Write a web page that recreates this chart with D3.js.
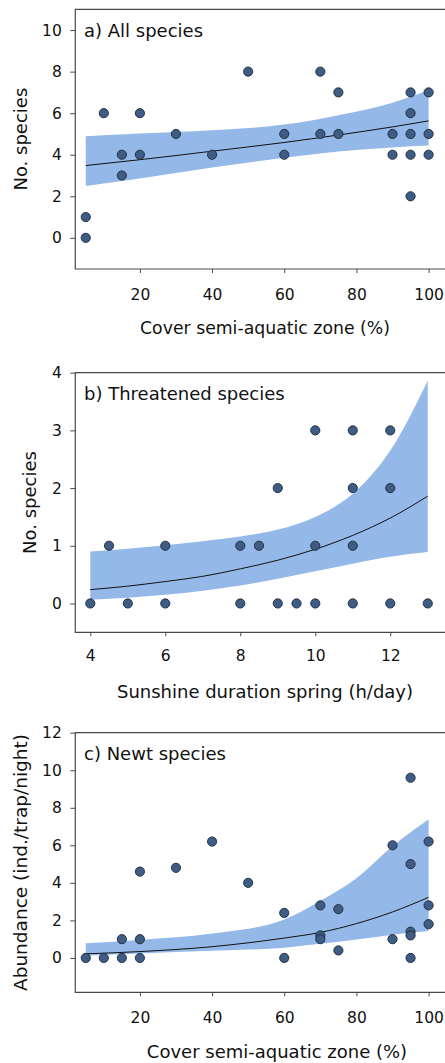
<!DOCTYPE html>
<html>
<head>
<meta charset="utf-8">
<script src="https://cdn.jsdelivr.net/npm/d3@7"></script>
<style>
  html, body { margin: 0; padding: 0; background: #fff; }
  svg { display: block; }
</style>
</head>
<body>
<div id="chart"></div>
<script>
/* ------------------------- Data ------------------------- */
/* a) All species vs cover of semi-aquatic zone */
var coverA   = [5, 5, 10, 15, 15, 20, 20, 30, 40, 50, 60, 60, 70, 70, 75, 75, 90, 90, 95, 95, 95, 95, 95, 100, 100, 100];
var speciesA = [1, 0, 6, 4, 3, 6, 4, 5, 4, 8, 5, 4, 8, 5, 7, 5, 5, 4, 7, 6, 5, 4, 2, 7, 5, 4];
var fitXA     = [5, 20, 40, 60, 75, 90, 100];
var fitA      = [3.48, 3.76, 4.17, 4.59, 4.95, 5.34, 5.63];
var upperA    = [4.89, 5.02, 5.18, 5.45, 5.9, 6.5, 7.1];
var lowerA    = [2.49, 2.85, 3.38, 3.85, 4.15, 4.35, 4.44];

/* b) Threatened species vs sunshine duration */
var sunB     = [4, 4.5, 5, 6, 6, 8, 8, 8.5, 9, 9, 9.5, 10, 10, 10, 11, 11, 11, 11, 12, 12, 12, 13];
var threatB  = [0, 1, 0, 1, 0, 1, 0, 1, 2, 0, 0, 3, 1, 0, 3, 2, 1, 0, 3, 2, 0, 0];
var fitXB     = [4, 5, 6, 7, 8, 9, 10, 11, 12, 13];
var fitB      = [0.24, 0.30, 0.38, 0.47, 0.60, 0.75, 0.94, 1.18, 1.48, 1.86];
var upperB    = [0.90, 0.95, 1.01, 1.08, 1.16, 1.28, 1.50, 1.90, 2.65, 3.86];
var lowerB    = [0.064, 0.10, 0.15, 0.22, 0.31, 0.43, 0.56, 0.69, 0.81, 0.89];

/* c) Newt abundance vs cover of semi-aquatic zone */
var coverC   = [5, 10, 15, 15, 20, 20, 20, 30, 40, 50, 60, 60, 70, 70, 70, 75, 75, 90, 90, 95, 95, 95, 95, 95, 100, 100, 100];
var newtC    = [0, 0, 1, 0, 4.6, 1, 0, 4.8, 6.2, 4.0, 2.4, 0, 2.8, 1.2, 1.0, 2.6, 0.4, 6.0, 1.0, 9.6, 5.0, 1.4, 1.2, 0, 6.2, 2.8, 1.8];
var fitXC     = [5, 20, 40, 60, 70, 80, 90, 100];
var fitC      = [0.22, 0.34, 0.60, 1.06, 1.36, 1.83, 2.45, 3.23];
var upperC    = [0.78, 0.96, 1.30, 2.05, 3.05, 4.25, 5.95, 7.39];
var lowerC    = [0.12, 0.24, 0.38, 0.55, 0.75, 0.98, 1.24, 1.44];

var ticksCover = [20, 40, 60, 80, 100];
var ticksSun   = [4, 6, 8, 10, 12];
/* ----------------------- End Data ----------------------- */

/* ------------------------- General ------------------------- */
var width = 445,
    height = 1063,
    left = 75.3,
    right = 460,
    fontFamily = "'DejaVu Sans', sans-serif",
    bandColor = "#94b9e9",
    dotFill = "#3f5d84",
    dotStroke = "#1b2838",
    frameColor = "#4a4a4a";

var svg = d3.select("#chart")
            .append("svg")
            .attr("width", width)
            .attr("height", height);

function zip(xs, ys) {
    return xs.map(function(x, i) { return {x: x, y: ys[i]}; });
}

/* Draw one panel */
function drawPanel(p) {
    var x = d3.scaleLinear().domain(p.xDomain).range([left, right]);
    var y = d3.scaleLinear().domain(p.yDomain).range([p.bottom, p.top]);
    var g = svg.append("g");

    var band = p.fitX.map(function(v, i) { return {x: v, lo: p.lower[i], hi: p.upper[i]}; });

    var area = d3.area()
                .curve(d3.curveMonotoneX)
                .x(function(d) { return x(d.x); })
                .y0(function(d) { return y(d.lo); })
                .y1(function(d) { return y(d.hi); });

    g.append("path")
        .datum(band)
        .attr("fill", bandColor)
        .attr("d", area);

    var line = d3.line()
                .curve(d3.curveMonotoneX)
                .x(function(d) { return x(d.x); })
                .y(function(d) { return y(d.y); });

    g.append("path")
        .datum(zip(p.fitX, p.fit))
        .attr("fill", "none")
        .attr("stroke", "#111")
        .attr("stroke-width", 1)
        .attr("d", line);

    /* Frame: left, top and bottom lines (right side runs off the page) */
    g.append("path")
        .attr("d", "M" + right + "," + p.top + "H" + left + "V" + p.bottom + "H" + right)
        .attr("fill", "none")
        .attr("stroke", frameColor)
        .attr("stroke-width", 1.2);

    /* Axes */
    var yAxis = d3.axisLeft(y)
                .tickValues(p.yTicks)
                .tickFormat(d3.format("d"))
                .tickSize(5)
                .tickPadding(8.5)
                .tickSizeOuter(0);

    var ya = g.append("g")
        .attr("transform", "translate(" + left + ",0)")
        .call(yAxis);

    var xAxis = d3.axisBottom(x)
                .tickValues(p.xTicks)
                .tickFormat(d3.format("d"))
                .tickSize(4)
                .tickPadding(p.xPad)
                .tickSizeOuter(0);

    var xa = g.append("g")
        .attr("transform", "translate(0," + p.bottom + ")")
        .call(xAxis);

    [ya, xa].forEach(function(a) {
        a.select(".domain").remove();
        a.selectAll("line").attr("stroke", frameColor);
        a.selectAll("text")
            .attr("font-family", fontFamily)
            .attr("font-size", 15.5)
            .attr("fill", "#111");
    });

    /* Points */
    g.selectAll("circle")
        .data(zip(p.px, p.py))
        .enter().append("circle")
        .attr("cx", function(d) { return x(d.x); })
        .attr("cy", function(d) { return y(d.y); })
        .attr("r", 4.6)
        .attr("fill", dotFill)
        .attr("stroke", dotStroke)
        .attr("stroke-width", 0.9);

    /* Panel title */
    g.append("text")
        .attr("x", 84)
        .attr("y", p.titleY)
        .attr("font-family", fontFamily)
        .attr("font-size", 18)
        .attr("fill", "#111")
        .text(p.title);

    /* Axis titles */
    g.append("text")
        .attr("x", p.xTitleX)
        .attr("y", p.xTitleY)
        .attr("text-anchor", "middle")
        .attr("font-family", fontFamily)
        .attr("font-size", p.xTitleSize)
        .attr("fill", "#111")
        .text(p.xTitle);

    g.append("text")
        .attr("transform", "translate(" + p.yTitleX + "," + ((p.top + p.bottom) / 2) + ")rotate(-90)")
        .attr("text-anchor", "middle")
        .attr("font-family", fontFamily)
        .attr("font-size", p.yTitleSize)
        .attr("fill", "#111")
        .text(p.yTitle);
}
/* ----------------------- End General ----------------------- */

/* ------------------------- Panels ------------------------- */
drawPanel({
    top: 9.3, bottom: 269,
    xDomain: [2.1, 108.7], yDomain: [-1.5, 11],
    xTicks: ticksCover, yTicks: [0, 2, 4, 6, 8, 10], xPad: 16,
    px: coverA, py: speciesA,
    fitX: fitXA, fit: fitA, upper: upperA, lower: lowerA,
    title: "a) All species", titleY: 36.7,
    xTitle: "Cover semi-aquatic zone (%)", xTitleX: 265, xTitleY: 334, xTitleSize: 17.3,
    yTitle: "No. species", yTitleX: 26.5, yTitleSize: 18
});

drawPanel({
    top: 372.7, bottom: 632.3,
    xDomain: [3.6, 13.86], yDomain: [-0.5, 4],
    xTicks: ticksSun, yTicks: [0, 1, 2, 3, 4], xPad: 13.7,
    px: sunB, py: threatB,
    fitX: fitXB, fit: fitB, upper: upperB, lower: lowerB,
    title: "b) Threatened species", titleY: 399.5,
    xTitle: "Sunshine duration spring (h/day)", xTitleX: 265, xTitleY: 698, xTitleSize: 18,
    yTitle: "No. species", yTitleX: 35.5, yTitleSize: 18
});

drawPanel({
    top: 732.7, bottom: 992.3,
    xDomain: [2.1, 108.7], yDomain: [-1.83, 12],
    xTicks: ticksCover, yTicks: [0, 2, 4, 6, 8, 10, 12], xPad: 15.7,
    px: coverC, py: newtC,
    fitX: fitXC, fit: fitC, upper: upperC, lower: lowerC,
    title: "c) Newt species", titleY: 760,
    xTitle: "Cover semi-aquatic zone (%)", xTitleX: 277, xTitleY: 1057.5, xTitleSize: 18,
    yTitle: "Abundance (ind./trap/night)", yTitleX: 26.5, yTitleSize: 18.5
});
/* ----------------------- End Panels ----------------------- */
</script>
</body>
</html>
